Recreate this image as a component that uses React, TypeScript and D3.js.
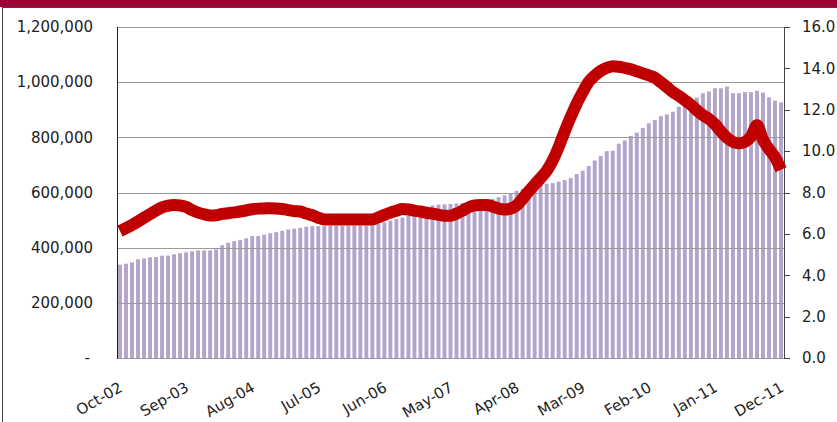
import React, { useEffect, useRef } from "react";
import * as d3 from "d3";

const barValues: number[] = [
  338000, 342000, 347000, 358000, 361000, 365000, 366000, 371000, 371000, 376000,
  380000, 383000, 387000, 390000, 390000, 390000, 394000, 409000, 418000, 424000,
  428000, 434000, 442000, 442000, 447000, 452000, 456000, 461000, 466000, 469000,
  472000, 476000, 478000, 478000, 478000, 479000, 479000, 479000, 479000, 480000,
  480000, 480000, 481000, 486000, 492000, 498000, 504000, 509000, 515000, 522000,
  535000, 548000, 553000, 556000, 557000, 558000, 560000, 562000, 563000, 564000,
  566000, 571000, 577000, 583000, 590000, 598000, 606000, 613000, 619000, 624000,
  629000, 632000, 634000, 639000, 645000, 652000, 667000, 679000, 696000, 716000,
  732000, 750000, 752000, 777000, 789000, 805000, 817000, 834000, 851000, 863000,
  877000, 883000, 893000, 911000, 923000, 933000, 944000, 960000, 966000, 978000,
  978000, 984000, 960000, 960000, 964000, 964000, 969000, 962000, 945000, 933000,
  927000,
];

const lineValues: number[] = [
  6.14, 6.28, 6.43, 6.6, 6.78, 6.95, 7.13, 7.28, 7.36, 7.39,
  7.37, 7.3, 7.15, 7.03, 6.95, 6.89, 6.9, 6.97, 7.0, 7.04,
  7.08, 7.13, 7.19, 7.22, 7.23, 7.24, 7.23, 7.2, 7.15, 7.1,
  7.08, 6.98, 6.9, 6.78, 6.7, 6.7, 6.7, 6.7, 6.7, 6.7,
  6.7, 6.7, 6.7, 6.8, 6.92, 7.03, 7.12, 7.2, 7.18, 7.12,
  7.08, 7.02, 6.98, 6.92, 6.88, 6.88, 6.98, 7.12, 7.28, 7.38,
  7.4, 7.4, 7.32, 7.22, 7.18, 7.22, 7.38, 7.7, 8.05, 8.38,
  8.7, 9.05, 9.55, 10.2, 10.95, 11.65, 12.3, 12.85, 13.35, 13.65,
  13.88, 14.02, 14.1, 14.08, 14.02, 13.96, 13.86, 13.76, 13.66, 13.55,
  13.33, 13.1, 12.86, 12.67, 12.46, 12.24, 11.97, 11.74, 11.55, 11.3,
  10.95, 10.65, 10.45, 10.38, 10.45, 10.7, 11.25, 10.55, 10.1, 9.7,
  9.1,
];

const tickLabels: string[] = [
  "Oct-02", "Sep-03", "Aug-04", "Jul-05", "Jun-06", "May-07",
  "Apr-08", "Mar-09", "Feb-10", "Jan-11", "Dec-11",
];
const tickStep = 11;

const leftTicks: number[] = [0, 200000, 400000, 600000, 800000, 1000000, 1200000];
const rightTicks: number[] = [0, 2, 4, 6, 8, 10, 12, 14, 16];

const W = 837;
const H = 422;
const plot = { left: 117, right: 784, top: 27, bottom: 358 };
const FONT = "'DejaVu Sans', Verdana, sans-serif";

export default function App() {
  const ref = useRef<SVGSVGElement | null>(null);

  useEffect(() => {
    document.body.style.margin = "0";
    const svg = d3.select(ref.current);
    svg.selectAll("*").remove();

    svg.append("rect").attr("x", 0).attr("y", 0).attr("width", W).attr("height", H).attr("fill", "#fff");
    svg.append("rect").attr("x", 0).attr("y", 0).attr("width", W).attr("height", 7).attr("fill", "#990033");
    svg.append("rect").attr("x", 2.5).attr("y", 7.5).attr("width", W + 20).attr("height", H + 20)
      .attr("fill", "none").attr("stroke", "#444").attr("stroke-width", 1);

    const idx = barValues.map((_, i) => i);
    const x = d3.scaleBand<number>().domain(idx).range([plot.left, plot.right]).paddingInner(0.35).paddingOuter(0.17);
    const yL = d3.scaleLinear().domain([0, 1200000]).range([plot.bottom, plot.top]);
    const yR = d3.scaleLinear().domain([0, 16]).range([plot.bottom, plot.top]);

    // bars
    svg.append("g").selectAll("rect").data(barValues).join("rect")
      .attr("x", (_, i) => x(i)!)
      .attr("width", x.bandwidth())
      .attr("y", (d) => yL(d))
      .attr("height", (d) => plot.bottom - yL(d))
      .attr("fill", "#b3a4cc");

    // gridlines
    svg.append("g").selectAll("line").data(leftTicks.filter((t) => t > 0)).join("line")
      .attr("x1", plot.left).attr("x2", plot.right)
      .attr("y1", (d) => Math.round(yL(d)) + 0.5).attr("y2", (d) => Math.round(yL(d)) + 0.5)
      .attr("stroke", "#9a9a9a").attr("stroke-width", 1);

    // bottom axis line
    svg.append("line").attr("x1", plot.left).attr("x2", plot.right)
      .attr("y1", plot.bottom + 0.5).attr("y2", plot.bottom + 0.5).attr("stroke", "#9a9a9a");

    // left axis
    svg.append("line").attr("x1", plot.left + 0.5).attr("x2", plot.left + 0.5)
      .attr("y1", plot.top).attr("y2", plot.bottom + 1).attr("stroke", "#222").attr("stroke-width", 1);
    // right axis
    svg.append("line").attr("x1", plot.right + 0.5).attr("x2", plot.right + 0.5)
      .attr("y1", plot.top).attr("y2", plot.bottom + 1).attr("stroke", "#444").attr("stroke-width", 1);
    svg.append("g").selectAll("line").data(rightTicks).join("line")
      .attr("x1", plot.right).attr("x2", plot.right + 6)
      .attr("y1", (d) => Math.round(yR(d)) + 0.5).attr("y2", (d) => Math.round(yR(d)) + 0.5)
      .attr("stroke", "#444");

    // line
    const line = d3.line<number>()
      .x((_, i) => x(i)! + x.bandwidth() / 2)
      .y((d) => yR(d))
      .curve(d3.curveMonotoneX);
    svg.append("path").attr("d", line(lineValues))
      .attr("fill", "none").attr("stroke", "#c00000").attr("stroke-width", 12)
      .attr("stroke-linejoin", "round").attr("stroke-linecap", "butt");

    // left labels
    const fmt = d3.format(",");
    svg.append("g").selectAll("text").data(leftTicks).join("text")
      .attr("x", (d) => (d === 0 ? 90 : 93))
      .attr("y", (d) => yL(d))
      .attr("dy", "0.35em")
      .attr("text-anchor", "end")
      .attr("font-family", FONT).attr("font-size", 15).attr("fill", "#222")
      .text((d) => (d === 0 ? "-" : fmt(d)));

    // right labels
    svg.append("g").selectAll("text").data(rightTicks).join("text")
      .attr("x", 802)
      .attr("y", (d) => yR(d))
      .attr("dy", "0.35em")
      .attr("text-anchor", "start")
      .attr("font-family", FONT).attr("font-size", 15).attr("fill", "#222")
      .text((d) => d.toFixed(1));

    // bottom labels
    svg.append("g").selectAll("text").data(tickLabels).join("text")
      .attr("transform", (_, k) => {
        const cx = x(k * tickStep)! + x.bandwidth() / 2 + 1;
        return `translate(${cx},${386}) rotate(-30)`;
      })
      .attr("dy", "0.35em")
      .attr("text-anchor", "end")
      .attr("font-family", FONT).attr("font-size", 15).attr("fill", "#222")
      .text((d) => d);
  }, []);

  return (
    <div style={{ position: "absolute", left: 0, top: 0 }}>
      <svg ref={ref} width={W} height={H} style={{ display: "block" }} />
    </div>
  );
}
